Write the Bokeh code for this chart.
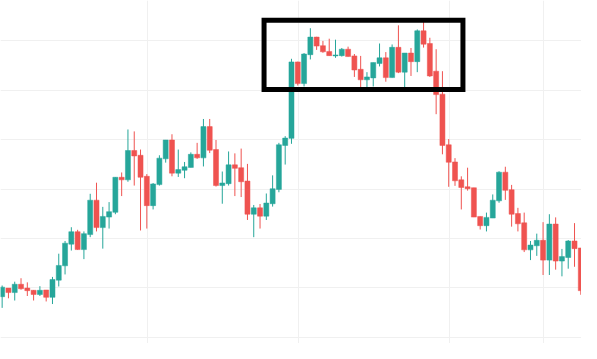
from bokeh.plotting import figure
from bokeh.models import ColumnDataSource, FixedTicker, BoxAnnotation, Range1d
from bokeh.embed import file_html
from bokeh.resources import INLINE

# OHLC values (arbitrary price units, larger = higher)
opens = [50, 59, 54.3, 63, 59, 56.7, 52.3, 57, 49.3, 67.3,
         82.3, 105, 118, 99.3, 115, 151, 122.3, 133.3, 138.3, 175,
         172.3, 203, 198, 176, 145.3, 167.3, 194.3, 214, 179.3, 182.3,
         185.3, 199, 195.3, 228, 204, 166.3, 168.3, 188, 185, 171,
         136.3, 143, 134.3, 147.3, 162.3, 208.3, 215.7, 295.7, 273, 303.3,
         321.7, 312.7, 306.7, 302, 302.3, 309, 302, 288, 277, 279,
         294, 300, 279.3, 311, 285, 305, 296, 328.3, 315, 286,
         262, 209, 191, 172.3, 165, 164, 134, 124.3, 132.3, 150.3,
         180.3, 162, 137, 127.3, 99, 103.3, 109, 88.3, 126, 87.3,
         91, 108.3, 101]
highs = [61.7, 59, 65.7, 69.3, 65, 57, 61, 57, 70.7, 95,
         108.3, 122.7, 120, 118.3, 157.7, 169.3, 144, 149, 175, 180,
         225, 223, 204, 178.3, 169, 198, 214, 220, 204, 191,
         201, 211, 236, 236, 214, 181, 202, 200, 205, 189,
         146, 147, 158, 177, 211, 218, 299, 296, 305, 331,
         322, 317.7, 320, 319, 310.3, 311.7, 304, 302, 285, 295,
         315, 306, 314, 334, 305, 310.3, 329.7, 337.7, 321, 309,
         286, 215, 195, 176, 185, 164, 134, 138, 157, 181.3,
         186, 167, 143, 138, 108.3, 116, 128, 136.3, 133, 100,
         109.3, 127, 101]
lows = [38.3, 48.3, 46, 57.3, 50.7, 46, 50.7, 45, 42.3, 60.7,
        73.3, 98.3, 99, 89.3, 112.3, 118.3, 100.3, 121.3, 136.3, 155.3,
        170.3, 166.3, 119.3, 121.3, 141.3, 166.3, 190.3, 176, 175.3, 174,
        185.3, 194.3, 186.3, 200.3, 165.3, 147.3, 166.3, 155.3, 154.3, 130.3,
        112.3, 121.3, 130.3, 144.3, 159.3, 188.3, 210, 271, 270, 298.3,
        308.3, 305.3, 302.3, 300, 301.3, 301.3, 280, 268, 268.3, 270,
        291, 275, 279.3, 284, 269, 281, 285, 310.7, 280, 241,
        199, 165, 166, 141.3, 161, 133.3, 120.3, 118.3, 132.3, 148.3,
        151.3, 123.3, 118.3, 96.7, 88.3, 92.7, 72.7, 72.7, 78.3, 71.3,
        79.3, 81.3, 52]
closes = [60, 54.3, 63, 58.3, 56.3, 52.3, 56.7, 49.3, 68, 82.7,
          106, 118, 99.3, 116, 151, 122.3, 134, 139, 175, 172.3,
          203, 197.3, 175, 145.3, 168, 195, 214, 179.3, 183, 186,
          199, 195.3, 228, 203.3, 166.3, 169, 188, 184.3, 170.3, 136.3,
          143, 134.3, 148, 163, 209, 216, 295.7, 273, 304, 321.7,
          312.3, 306.3, 302.3, 303, 309, 301.3, 287.3, 277, 280, 295,
          300, 279.3, 311, 285, 305, 296, 328.3, 314.3, 281, 261.5,
          208.3, 190.7, 171.3, 164.3, 163, 133.3, 124.3, 133, 151, 180.3,
          161.3, 136.3, 126.3, 99, 104, 109, 88.3, 126, 87.3, 92,
          108.3, 100.3, 56.3]

# highlighted zone (candle indices / prices)
zone_first, zone_last = 41.64, 73.26
zone_low, zone_high = 266.8, 339.2

# grid positions (candle index / price)
vgrid = [23.05, 47.1, 71.1, 86.1]
hgrid = [7.7, 59.37, 111.03, 162.7, 214.37, 266.03, 317.7]

UP = "#26a69a"
DOWN = "#ef5350"

idx = list(range(len(opens)))
colors = [UP if c >= o else DOWN for o, c in zip(opens, closes)]
tops = [max(o, c) for o, c in zip(opens, closes)]
bots = [min(o, c) for o, c in zip(opens, closes)]

src = ColumnDataSource(dict(x=idx, o=opens, h=highs, l=lows, c=closes,
                            top=tops, bot=bots, color=colors))

p = figure(width=581, height=343, output_backend="svg", toolbar_location=None,
           x_range=Range1d(-0.263, 92.11), y_range=Range1d(1, 360),
           min_border=0, min_border_left=0, min_border_right=0,
           min_border_top=0, min_border_bottom=0)
p.outline_line_color = None
p.background_fill_color = "white"
p.border_fill_color = "white"

p.xaxis.visible = False
p.yaxis.visible = False
p.xgrid.ticker = FixedTicker(ticks=vgrid)
p.ygrid.ticker = FixedTicker(ticks=hgrid)
p.xgrid.grid_line_color = "#f0f0f0"
p.ygrid.grid_line_color = "#f0f0f0"
p.xgrid.grid_line_width = 1
p.ygrid.grid_line_width = 1

p.segment(x0="x", y0="l", x1="x", y1="h", color="color", line_width=1, source=src)
p.vbar(x="x", width=0.8, top="top", bottom="bot", fill_color="color",
       line_color="color", line_width=0.5, source=src)

box = BoxAnnotation(left=zone_first, right=zone_last, bottom=zone_low, top=zone_high,
                    fill_alpha=0, fill_color=None, line_color="black",
                    line_alpha=1.0, line_width=5, line_join="miter", border_radius=0)
p.add_layout(box)

open("out.html", "w").write(file_html(p, INLINE))
